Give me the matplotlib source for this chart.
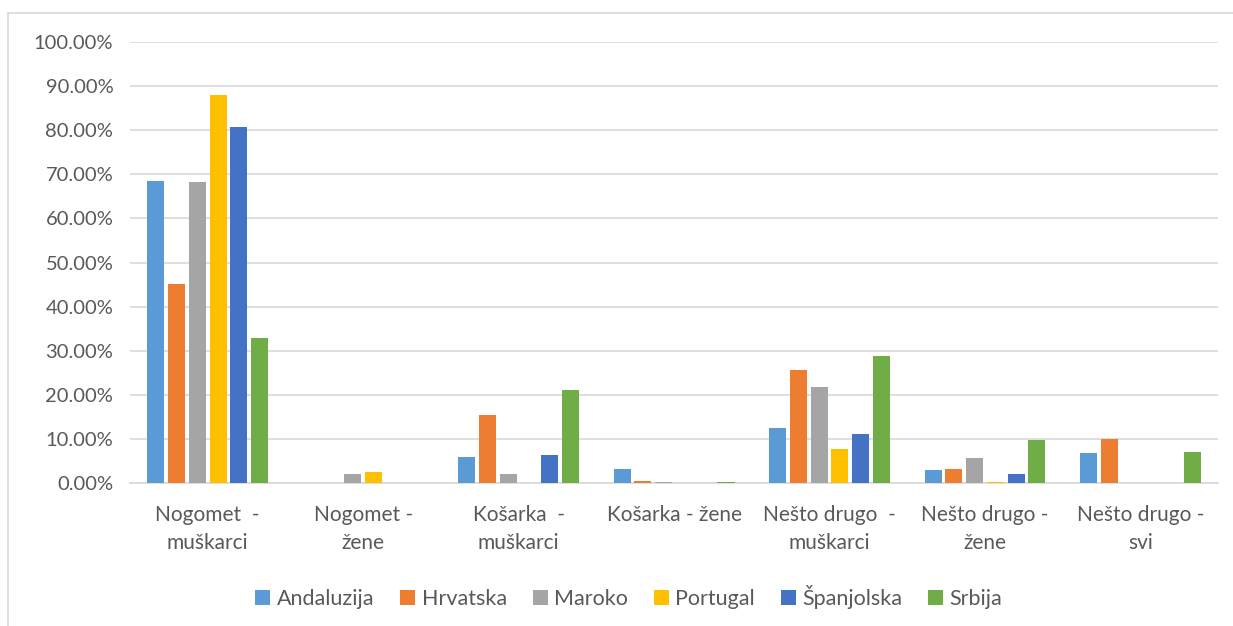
import numpy as np
import matplotlib.pyplot as plt
from matplotlib.patches import Rectangle
from matplotlib.ticker import FuncFormatter

plt.rcParams['font.family'] = ['Lato', 'DejaVu Sans']

categories = ['Nogomet  -\nmuškarci', 'Nogomet -\nžene', 'Košarka  -\nmuškarci',
              'Košarka - žene', 'Nešto drugo  -\nmuškarci', 'Nešto drugo -\nžene',
              'Nešto drugo -\nsvi']
series = ['Andaluzija', 'Hrvatska', 'Maroko', 'Portugal', 'Španjolska', 'Srbija']
colors = ['#5B9BD5', '#ED7D31', '#A5A5A5', '#FFC000', '#4472C4', '#70AD47']

andaluzija = [68.5, 0.0, 5.9, 3.2, 12.5, 2.9, 6.8]
hrvatska = [45.1, 0.0, 15.4, 0.6, 25.6, 3.2, 10.0]
maroko = [68.3, 2.0, 2.1, 0.3, 21.8, 5.8, 0.0]
portugal = [88.0, 2.6, 0.0, 0.0, 7.7, 0.4, 0.0]
spanjolska = [80.7, 0.0, 6.3, 0.0, 11.1, 2.0, 0.0]
srbija = [32.9, 0.0, 21.1, 0.3, 28.8, 9.8, 7.0]
values = [andaluzija, hrvatska, maroko, portugal, spanjolska, srbija]

fig = plt.figure(figsize=(12.33, 6.26), dpi=100)
ax = fig.add_axes([0.1054, 0.228, 0.8826, 0.705])

x = np.arange(len(categories))
w = 0.11
pitch = 0.1335
for i, (name, vals) in enumerate(zip(series, values)):
    ax.bar(x + (i - 2.5) * pitch, vals, w, color=colors[i], label=name, zorder=3)

ax.set_xlim(-0.5, len(categories) - 0.5)
ax.set_ylim(0, 100)
ax.set_yticks(np.arange(0, 101, 10))
ax.yaxis.set_major_formatter(FuncFormatter(lambda v, p: f'{v:.2f}%'))
ax.grid(axis='y', color='#D9D9D9', linewidth=1.2, zorder=0)
for s in ['top', 'right', 'left']:
    ax.spines[s].set_visible(False)
ax.spines['bottom'].set_color('#D9D9D9')
ax.spines['bottom'].set_linewidth(1.2)
ax.tick_params(length=0, colors='#595959')
ax.tick_params(axis='y', labelsize=14.5, pad=12)
ax.set_xticks(x)
ax.set_xticklabels(categories, linespacing=1.45)
ax.tick_params(axis='x', labelsize=15, pad=16)

fig.legend(loc='center', bbox_to_anchor=(0.51, 0.046), ncol=6, frameon=False,
           fontsize=15.5, labelcolor='#595959', handlelength=0.7, handleheight=0.7,
           handletextpad=0.3, columnspacing=1.2)

fig.patches.append(Rectangle((8 / 1233, -0.1), 1.1, 1 - 13 / 626 + 0.1,
                             transform=fig.transFigure, fill=False,
                             edgecolor='#D9D9D9', linewidth=1.2))

fig.savefig('out.png', dpi=100)
